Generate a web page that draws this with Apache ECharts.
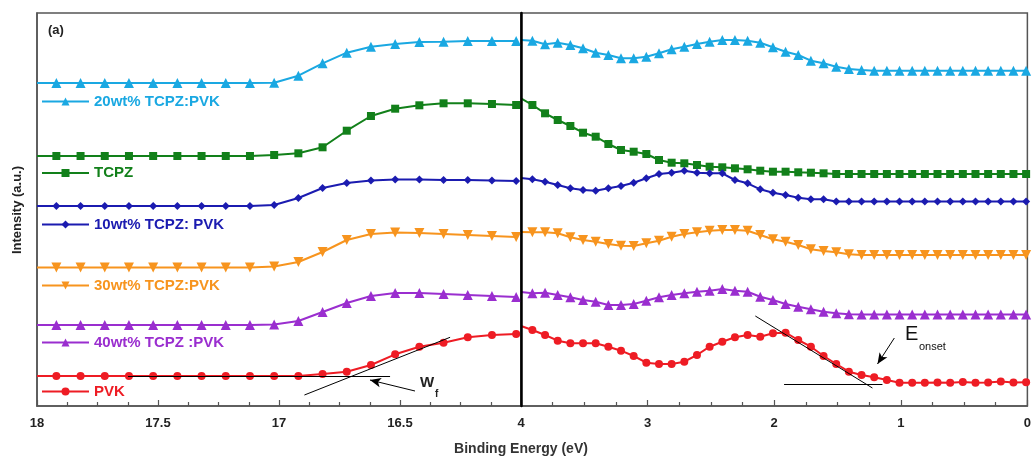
<!DOCTYPE html>
<html>
<head>
<meta charset="utf-8">
<script src="https://cdn.jsdelivr.net/npm/echarts@6/dist/echarts.min.js"></script>
<style>html,body{margin:0;padding:0;background:#fff}#c{width:1034px;height:459px}</style>
</head>
<body>
<div id="c"></div>
<script>
// ---------- DATA ----------
var seriesNames = ['20wt% TCPZ:PVK', 'TCPZ', '10wt% TCPZ: PVK', '30wt% TCPZ:PVK', '40wt% TCPZ :PVK', 'PVK'];

// Left panel binding energies (eV); first value is the panel edge
var xLeft = [18, 17.92, 17.82, 17.72, 17.62, 17.52, 17.42, 17.32, 17.22, 17.12, 17.02,
             16.92, 16.82, 16.72, 16.62, 16.52, 16.42, 16.32, 16.22, 16.12, 16.02];
// Right panel binding energies (eV); first value is the panel edge
var xRight = [4, 3.91, 3.81, 3.71, 3.61, 3.51, 3.41, 3.31, 3.21, 3.11, 3.01,
              2.91, 2.81, 2.71, 2.61, 2.51, 2.41, 2.31, 2.21, 2.11, 2.01,
              1.91, 1.81, 1.71, 1.61, 1.51, 1.41, 1.31, 1.21, 1.11, 1.01,
              0.91, 0.81, 0.71, 0.61, 0.51, 0.41, 0.31, 0.21, 0.11, 0.01];

// Intensities (a.u., stacked offsets)
var wt20Left = [323, 323, 323, 323, 323, 323, 323, 323, 323, 323, 323.3,
                330.3, 342.7, 353.3, 359.3, 362, 364, 364.3, 365, 365, 365];
var wt20Right = [366, 365.3, 361.7, 363.3, 361, 357.7, 353.3, 351, 347.7, 347.7, 349.3,
                 352.7, 356.7, 359.3, 362, 364.3, 366, 366, 365.3, 363.3, 358.7,
                 354.3, 351, 345.3, 342.7, 339.3, 337, 336, 335.3, 335.3, 335.3,
                 335.3, 335.3, 335.3, 335.3, 335.3, 335.3, 335.3, 335.3, 335.3, 335.3];

var tcpzLeft = [250, 250, 250, 250, 250, 250, 250, 250, 250, 250, 251,
                252.7, 258.7, 275.3, 290, 297.3, 300.7, 302.7, 302.7, 302, 301];
var tcpzRight = [307.7, 301, 292.7, 286, 280, 273.3, 269.3, 262, 256, 254.3, 252,
                 246, 243.3, 242.7, 241, 239.3, 238.7, 237.7, 236.7, 235.3, 234.3,
                 234.3, 233.7, 233.3, 232.7, 232, 232, 232, 232, 232, 232,
                 232, 232, 232, 232, 232, 232, 232, 232, 232, 232];

var wt10Left = [200, 200, 200, 200, 200, 200, 200, 200, 200, 200, 201,
                208, 218, 223, 225.5, 226.5, 226.5, 226, 226, 225.5, 225];
var wt10Right = [228, 226.7, 224.3, 221, 217.7, 216, 215.3, 217.7, 220, 223.3, 227.7,
                 232, 233.3, 235.3, 233.3, 232.7, 232.7, 226, 222.7, 216.7, 213.3,
                 211, 208.3, 206.7, 206.7, 204.5, 204.5, 204.5, 204.5, 204.5, 204.5,
                 204.5, 204.5, 204.5, 204.5, 204.5, 204.5, 204.5, 204.5, 204.5, 204.5];

var wt30Left = [138.5, 138.5, 138.5, 138.5, 138.5, 138.5, 138.5, 138.5, 138.5, 138.5, 139.5,
                144, 154, 166, 172, 173.5, 173, 172, 171, 170, 169];
var wt30Right = [174, 173.7, 173.7, 172.7, 168.7, 166, 164.3, 162, 160.3, 160, 162.7,
                 165.3, 169.3, 172, 173.7, 175.3, 176, 176, 175.3, 171, 166.7,
                 164.3, 161, 156.7, 155, 153.7, 151.7, 151, 151, 151, 151,
                 151, 151, 151, 151, 151, 151, 151, 151, 151, 151];

var wt40Left = [81, 81, 81, 81, 81, 81, 81, 81, 81, 81, 81.5,
                85, 94, 103, 110, 113, 113, 112, 111, 110, 109];
var wt40Right = [114, 112.7, 113.3, 111, 108.7, 106, 104.3, 101, 101, 102, 105.3,
                 108.7, 111, 112.7, 114.3, 115.3, 117, 115.3, 114.3, 109.3, 106,
                 102, 99.3, 96.7, 94.3, 92.7, 91.7, 91.5, 91.5, 91.5, 91.5,
                 91.5, 91.5, 91.5, 91.5, 91.5, 91.5, 91.5, 91.5, 91.5, 91.5];

var pvkLeft = [30, 30, 30, 30, 30, 30, 30, 30, 30, 30, 30,
               30, 32, 34.3, 41, 51.7, 59.3, 63.3, 68.7, 71, 72];
var pvkRight = [80, 76, 71, 65.3, 62.7, 62.7, 62.7, 59.3, 55.3, 50, 43.3,
                42, 42, 44.3, 51, 59.3, 64.3, 68.7, 71, 69.3, 72.7,
                73.3, 66, 59.3, 50, 42, 34.3, 31, 28.7, 26, 23.3,
                23.3, 23.3, 23.5, 23.3, 24, 23.3, 23.5, 24.5, 23.5, 23.8];

var xTicksLeft = [18, 17.5, 17, 16.5];
var xTicksRight = [4, 3, 2, 1, 0];

// Annotation construction lines (data coordinates)
var wfTangent = [[16.895, 11], [16.293, 68.7]];
var wfBaseline = [[17.624, 29.5], [16.541, 29.5]];
var wfArrow = [[16.438, 15], [16.624, 26]];
var eTangent = [[2.149, 90], [1.224, 18]];
var eBaseline = [[1.922, 22], [1.145, 22]];
var eArrow = [[1.051, 68], [1.184, 42]];

// ---------- STYLE ----------
var colors = ['#1AA8E2', '#12801A', '#1B1BB0', '#F7941E', '#9A2ECF', '#EE1C24'];
var symbols = ['triangle', 'rect', 'diamond', 'triangle', 'triangle', 'circle'];
var rotates = [0, 0, 0, 180, 0, 0];
var sizes = [10, 8, 8, 10, 10, 8];
var legendCenters = [100, 171.5, 223, 284, 341, 390];
var FONT = '"Liberation Sans", Arial, sans-serif';

var leftData = [wt20Left, tcpzLeft, wt10Left, wt30Left, wt40Left, pvkLeft];
var rightData = [wt20Right, tcpzRight, wt10Right, wt30Right, wt40Right, pvkRight];

function build(xs, ys) {
  return xs.map(function (x, i) {
    if (i === 0) return { value: [x, ys[i]], symbol: 'none' };
    return [x, ys[i]];
  });
}
function seg(p, arrow) {
  return [{ coord: p[0], symbol: 'none' }, { coord: p[1], symbol: arrow ? 'arrow' : 'none', symbolSize: arrow ? [7, 11] : 0 }];
}

var series = [];
for (var k = 0; k < 6; k++) {
  var common = {
    name: seriesNames[k],
    type: 'line',
    symbol: symbols[k],
    symbolSize: sizes[k],
    symbolRotate: rotates[k],
    showAllSymbol: true,
    color: colors[k],
    lineStyle: { width: 2, color: colors[k] },
    itemStyle: { color: colors[k] },
    animation: false
  };
  var l = Object.assign({}, common, { xAxisIndex: 0, yAxisIndex: 0, data: build(xLeft, leftData[k]) });
  var r = Object.assign({}, common, { xAxisIndex: 1, yAxisIndex: 1, data: build(xRight, rightData[k]) });
  if (k === 5) {
    l.markLine = {
      silent: true, animation: false, symbol: 'none', label: { show: false },
      lineStyle: { color: '#000', width: 1, type: 'solid' },
      data: [seg(wfTangent), seg(wfBaseline), seg(wfArrow, true)]
    };
    r.markLine = {
      silent: true, animation: false, symbol: 'none', label: { show: false },
      lineStyle: { color: '#000', width: 1, type: 'solid' },
      data: [seg(eTangent), seg(eBaseline), seg(eArrow, true)]
    };
  }
  series.push(l, r);
}

var legends = seriesNames.map(function (n, k) {
  return {
    data: [n],
    left: 41,
    top: legendCenters[k] - 6,
    padding: 0,
    itemWidth: 47,
    itemHeight: 10,
    itemGap: 0,
    selectedMode: false,
    textStyle: { color: colors[k], fontFamily: FONT, fontWeight: 'bold', fontSize: 15, padding: [0, 0, 0, 0] }
  };
});

function xAxisCfg(idx, min, max, interval, hide) {
  return {
    type: 'value', gridIndex: idx, min: min, max: max, interval: interval, inverse: true,
    axisLine: { show: true, onZero: false, lineStyle: { color: '#555', width: 1.5 } },
    axisTick: { show: true, inside: true, length: 6, lineStyle: { color: '#555', width: 1.2 } },
    minorTick: { show: true, splitNumber: 4, length: 4, lineStyle: { color: '#555', width: 1.2 } },
    splitLine: { show: false },
    axisLabel: {
      show: true, margin: 11, color: '#222', fontFamily: FONT, fontWeight: 'bold', fontSize: 13,
      formatter: function (v) { return v === hide ? '' : String(v); }
    }
  };
}

var option = {
  backgroundColor: '#fff',
  animation: false,
  grid: [
    { left: 37, right: 513, top: 13, bottom: 53, show: true, borderColor: '#555', borderWidth: 1.5, backgroundColor: 'transparent' },
    { left: 521, right: 3, top: 13, bottom: 53, show: true, borderColor: '#555', borderWidth: 1.5, backgroundColor: 'transparent' }
  ],
  xAxis: [xAxisCfg(0, 16, 18, 0.5, 16), xAxisCfg(1, 0, 4, 1, -1)],
  yAxis: [
    { type: 'value', gridIndex: 0, min: 0, max: 393, position: 'left', axisLabel: { show: false }, axisTick: { show: false }, splitLine: { show: false },
      axisLine: { show: true, onZero: false, lineStyle: { color: '#555', width: 1.5 } } },
    { type: 'value', gridIndex: 1, min: 0, max: 393, position: 'left', z: 10, axisLabel: { show: false }, axisTick: { show: false }, splitLine: { show: false },
      axisLine: { show: true, onZero: false, lineStyle: { color: '#000', width: 2.5 } } }
  ],
  legend: legends,
  series: series,
  graphic: [
    { type: 'text', left: 48, top: 24, style: { text: '(a)', font: 'bold 13px ' + FONT, fill: '#222' } },
    { type: 'text', x: 521, y: 449, style: { text: 'Binding Energy (eV)', font: 'bold 14px ' + FONT, fill: '#333', align: 'center', verticalAlign: 'middle' } },
    { type: 'text', x: 17, y: 210, rotation: Math.PI / 2, style: { text: 'Intensity (a.u.)', font: 'bold 13px ' + FONT, fill: '#222', align: 'center', verticalAlign: 'middle' } },
    { type: 'text', x: 420, y: 383, style: { text: 'W', font: 'bold 15px ' + FONT, fill: '#222', verticalAlign: 'middle' } },
    { type: 'text', x: 435, y: 394, style: { text: 'f', font: 'bold 10px ' + FONT, fill: '#222', verticalAlign: 'middle' } },
    { type: 'text', x: 905, y: 334, style: { text: 'E', font: '20px ' + FONT, fill: '#111', verticalAlign: 'middle' } },
    { type: 'text', x: 919, y: 347, style: { text: 'onset', font: '11px ' + FONT, fill: '#111', verticalAlign: 'middle' } }
  ]
};

var chart = echarts.init(document.getElementById('c'), null, { renderer: 'canvas' });
chart.setOption(option);
</script>
</body>
</html>
